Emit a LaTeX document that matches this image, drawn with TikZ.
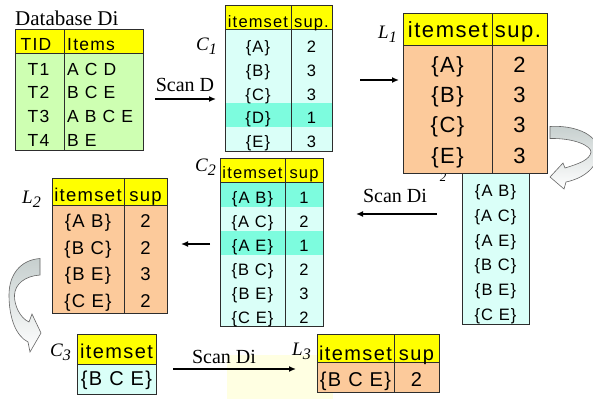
\documentclass[tikz,border=0pt]{standalone}
\usepackage{fontspec}
\setmainfont{Liberation Serif}
\newfontfamily\tsans[LetterSpace=7]{Liberation Sans}
\usetikzlibrary{arrows.meta}
\definecolor{hdr}{RGB}{255,255,0}
\definecolor{dbg}{RGB}{206,255,178}
\definecolor{cyl}{RGB}{218,255,248}
\definecolor{cyh}{RGB}{125,252,222}
\definecolor{pch}{RGB}{252,202,155}
\definecolor{pale}{RGB}{255,255,226}
\definecolor{arrg}{RGB}{198,207,206}
\definecolor{bord}{RGB}{45,45,45}
\newcommand\fsz[1]{\fontsize{#1}{#1}\selectfont}
\newcommand\subl[1]{\raisebox{-4pt}{\fsz{16}#1}}
\begin{document}
\begin{tikzpicture}[x=1pt,y=-1pt,
  tb/.style={draw=bord,line width=0.8pt},
  tx/.style={inner sep=0pt,anchor=base,font=\tsans\fsz{#1}},
  txw/.style={inner sep=0pt,anchor=base west,font=\tsans\fsz{#1}},
  lab/.style={inner sep=0pt,anchor=base,font=\fsz{20}},
  clab/.style={inner sep=0pt,anchor=base west,font=\itshape\fsz{19}},
  arr/.style={line width=1.4pt,-{Latex[length=7pt,width=6pt]}},
  curvarr/.style={draw=black!60,line width=0.6pt,top color=arrg,middle color=arrg,bottom color=white}]
\useasboundingbox (0,0) rectangle (593,399);
\fill[white] (0,0) rectangle (593,399);
\fill[pale] (227,355) rectangle (333,399);

% Database Di
\node[lab,anchor=base west,font=\fsz{21}] (dblab) at (15,25) {Database Di};
\fill[hdr] (15,29) rectangle (143,53);
\fill[dbg] (15,53) rectangle (143,150);
\draw[tb] (15,29) rectangle (143,150) (15,53) -- (143,53) (64,29) -- (64,150);
\node[tx=17.5] (dbh1) at (36,50) {TID};
\node[txw=17.5] (dbh2) at (67,50) {Items};
\node[tx=17.5] (dbt1) at (38.5,75) {T1};
\node[tx=17.5] (dbt2) at (38.5,98.5) {T2};
\node[tx=17.5] (dbt3) at (38.5,122) {T3};
\node[tx=17.5] (dbt4) at (38.5,146) {T4};
\node[txw=17.5] (dbi1) at (67,75) {A C D};
\node[txw=17.5] (dbi2) at (67,98.5) {B C E};
\node[txw=17.5] (dbi3) at (67,122) {A B C E};
\node[txw=17.5] (dbi4) at (67,146) {B E};

% Scan D
\node[lab] (scand) at (185,91) {Scan D};
\coordinate (a1s) at (155,99);
\coordinate (a1e) at (216,99);
\draw[arr] (a1s) -- (a1e);

% C1
\node[clab] (c1lab) at (196,50) {C\subl{1}};
\fill[hdr] (225,5) rectangle (332,29);
\fill[cyl] (225,29) rectangle (332,151);
\fill[cyh] (225,102.5) rectangle (332,126.5);
\draw[tb] (225,5) rectangle (332,151) (225,29) -- (332,29) (291,5) -- (291,151);
\node[tx=16.5] (c1h1) at (258,27) {itemset};
\node[tx=16.5] (c1h2) at (311.5,27) {sup.};
\node[tx=16.5] (c1a) at (258,52.5) {\{A\}};
\node[tx=16.5] (c1b) at (258,76) {\{B\}};
\node[tx=16.5] (c1c) at (258,100) {\{C\}};
\node[tx=16.5] (c1d) at (258,123.5) {\{D\}};
\node[tx=16.5] (c1e) at (258,147) {\{E\}};
\node[tx=16.5] (c1sa) at (311.5,52.5) {2};
\node[tx=16.5] (c1sb) at (311.5,76) {3};
\node[tx=16.5] (c1sc) at (311.5,100) {3};
\node[tx=16.5] (c1sd) at (311.5,123.5) {1};
\node[tx=16.5] (c1se) at (311.5,147) {3};

% C1 -> L1
\coordinate (a2s) at (360,80);
\coordinate (a2e) at (399,80);
\draw[arr] (a2s) -- (a2e);

% partly hidden subscript
\node[inner sep=0pt,anchor=base,font=\itshape\fsz{13}] (hid2) at (443,181) {2};

% candidate box under L1
\fill[cyl] (462,173) rectangle (529,324);
\draw[tb] (462,173) rectangle (529,324);
\node[tx=16.5] (u1) at (495.5,196.5) {\{A B\}};
\node[tx=16.5] (u2) at (495.5,221) {\{A C\}};
\node[tx=16.5] (u3) at (495.5,246) {\{A E\}};
\node[tx=16.5] (u4) at (495.5,270.5) {\{B C\}};
\node[tx=16.5] (u5) at (495.5,295) {\{B E\}};
\node[tx=16.5] (u6) at (495.5,320) {\{C E\}};

% L1
\node[clab] (l1lab) at (378,38) {L\subl{1}};
\fill[hdr] (403,13) rectangle (547,45);
\fill[pch] (403,45) rectangle (547,173);
\draw[tb] (403,13) rectangle (547,173) (403,45) -- (547,45) (492,13) -- (492,173);
\node[tx=22] (l1h1) at (448,37) {itemset};
\node[tx=22] (l1h2) at (518,37) {sup.};
\node[tx=22] (l1a) at (447.5,72) {\{A\}};
\node[tx=22] (l1b) at (447.5,102.5) {\{B\}};
\node[tx=22] (l1c) at (447.5,132.5) {\{C\}};
\node[tx=22] (l1e) at (447.5,163) {\{E\}};
\node[tx=22] (l1sa) at (519.5,72) {2};
\node[tx=22] (l1sb) at (519.5,102.5) {3};
\node[tx=22] (l1sc) at (519.5,132.5) {3};
\node[tx=22] (l1se) at (519.5,163) {3};

% right curved arrow
\begin{scope}
\clip (540,100) rectangle (593,210);
\draw[curvarr] (550,126.5) .. controls (572,125) and (597,133) .. (598,150)
  .. controls (599,166) and (585,178) .. (566,182)
  -- (564,189) -- (550,177) -- (563,163) -- (565,168)
  .. controls (578,164) and (590,160) .. (591,152)
  .. controls (591,146) and (575,138) .. (550,138.5) -- cycle;
\end{scope}

% Scan Di (middle)
\node[lab] (scandi1) at (395,202.5) {Scan Di};
\coordinate (a3s) at (437,214);
\coordinate (a3e) at (356,214);
\draw[arr] (a3s) -- (a3e);

% C2
\node[clab] (c2lab) at (195,171.5) {C\subl{2}};
\fill[hdr] (220,158) rectangle (323,182);
\fill[cyl] (220,182) rectangle (323,326);
\fill[cyh] (220,182) rectangle (323,206.5);
\fill[cyh] (220,231) rectangle (323,255);
\draw[tb] (220,158) rectangle (323,326) (220,182) -- (323,182) (285,158) -- (285,326);
\node[tx=16.5] (c2h1) at (252.5,178) {itemset};
\node[tx=16.5] (c2h2) at (304,178) {sup};
\node[tx=16.5] (c2r1) at (252.5,203) {\{A B\}};
\node[tx=16.5] (c2r2) at (252.5,227) {\{A C\}};
\node[tx=16.5] (c2r3) at (252.5,251) {\{A E\}};
\node[tx=16.5] (c2r4) at (252.5,275) {\{B C\}};
\node[tx=16.5] (c2r5) at (252.5,299) {\{B E\}};
\node[tx=16.5] (c2r6) at (252.5,323) {\{C E\}};
\node[tx=16.5] (c2s1) at (304,203) {1};
\node[tx=16.5] (c2s2) at (304,227) {2};
\node[tx=16.5] (c2s3) at (304,251) {1};
\node[tx=16.5] (c2s4) at (304,275) {2};
\node[tx=16.5] (c2s5) at (304,299) {3};
\node[tx=16.5] (c2s6) at (304,323) {2};

% C2 -> L2
\coordinate (a4s) at (210,244);
\coordinate (a4e) at (181,244);
\draw[arr] (a4s) -- (a4e);

% L2
\node[clab] (l2lab) at (22,203) {L\subl{2}};
\fill[hdr] (52,178) rectangle (167,205);
\fill[pch] (52,205) rectangle (167,313);
\draw[tb] (52,178) rectangle (167,313) (52,205) -- (167,205) (124,178) -- (124,313);
\node[tx=18.5] (l2h1) at (88,201.5) {itemset};
\node[tx=18.5] (l2h2) at (145.5,201.5) {sup};
\node[tx=18.5] (l2r1) at (88,227.5) {\{A B\}};
\node[tx=18.5] (l2r2) at (88,254) {\{B C\}};
\node[tx=18.5] (l2r3) at (88,280.5) {\{B E\}};
\node[tx=18.5] (l2r4) at (88,307) {\{C E\}};
\node[tx=18.5] (l2s1) at (145.5,227.5) {2};
\node[tx=18.5] (l2s2) at (145.5,254) {2};
\node[tx=18.5] (l2s3) at (145.5,280.5) {3};
\node[tx=18.5] (l2s4) at (145.5,307) {2};

% left curved arrow
\draw[curvarr] (40,258.5) .. controls (20,260) and (9,275) .. (9,295)
  .. controls (9,318) and (16,336) .. (28,342)
  -- (30,352) -- (41,333) -- (32,314) -- (29,322)
  .. controls (20,318) and (14,305) .. (14.5,295)
  .. controls (15,284) and (25,276) .. (40,275) -- cycle;

% C3
\node[clab] (c3lab) at (50,356.5) {C\subl{3}};
\fill[hdr] (77,334) rectangle (156,364);
\fill[cyl] (77,364) rectangle (156,394);
\draw[tb] (77,334) rectangle (156,394) (77,364) -- (156,364);
\node[tx=20] (c3h) at (116.5,358) {itemset};
\node[tx=20] (c3r) at (116.5,385) {\{B C E\}};

% Scan Di (bottom)
\node[lab] (scandi2) at (224,363) {Scan Di};
\coordinate (a5s) at (173,369);
\coordinate (a5e) at (296,369);
\draw[arr] (a5s) -- (a5e);

% L3
\node[clab] (l3lab) at (292,355) {L\subl{3}};
\fill[hdr] (317,334) rectangle (439,362);
\fill[pch] (317,362) rectangle (439,392);
\draw[tb] (317,334) rectangle (439,392) (317,362) -- (439,362) (394,334) -- (394,392);
\node[tx=20] (l3h1) at (355.5,360) {itemset};
\node[tx=20] (l3h2) at (416.5,360) {sup};
\node[tx=20] (l3r) at (355.5,386.5) {\{B C E\}};
\node[tx=20] (l3s) at (416.5,386.5) {2};
\end{tikzpicture}
\end{document}
